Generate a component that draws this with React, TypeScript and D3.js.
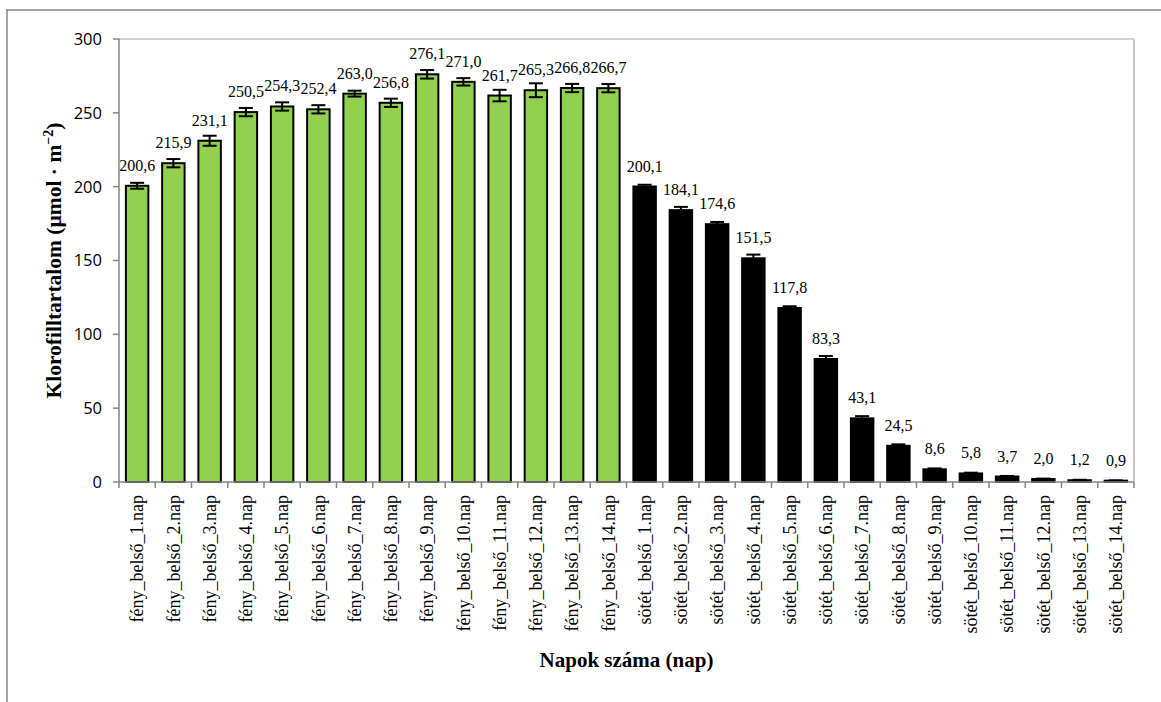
import React from "react";
import * as d3 from "d3";

const categories: string[] = [
  "fény_belső_1.nap", "fény_belső_2.nap", "fény_belső_3.nap", "fény_belső_4.nap",
  "fény_belső_5.nap", "fény_belső_6.nap", "fény_belső_7.nap", "fény_belső_8.nap",
  "fény_belső_9.nap", "fény_belső_10.nap", "fény_belső_11.nap", "fény_belső_12.nap",
  "fény_belső_13.nap", "fény_belső_14.nap",
  "sötét_belső_1.nap", "sötét_belső_2.nap", "sötét_belső_3.nap", "sötét_belső_4.nap",
  "sötét_belső_5.nap", "sötét_belső_6.nap", "sötét_belső_7.nap", "sötét_belső_8.nap",
  "sötét_belső_9.nap", "sötét_belső_10.nap", "sötét_belső_11.nap", "sötét_belső_12.nap",
  "sötét_belső_13.nap", "sötét_belső_14.nap",
];

const values: number[] = [
  200.6, 215.9, 231.1, 250.5, 254.3, 252.4, 263.0, 256.8, 276.1, 271.0, 261.7, 265.3, 266.8, 266.7,
  200.1, 184.1, 174.6, 151.5, 117.8, 83.3, 43.1, 24.5, 8.6, 5.8, 3.7, 2.0, 1.2, 0.9,
];

const errors: number[] = [
  2.0, 2.8, 3.4, 2.8, 2.8, 2.8, 2.0, 2.8, 2.9, 2.5, 3.9, 4.7, 2.8, 2.8,
  1.2, 2.2, 1.5, 2.5, 1.2, 2.0, 1.5, 1.0, 0.6, 0.5, 0.4, 0.3, 0.3, 0.2,
];

const groups: string[] = [
  "fény", "fény", "fény", "fény", "fény", "fény", "fény", "fény", "fény", "fény", "fény", "fény", "fény", "fény",
  "sötét", "sötét", "sötét", "sötét", "sötét", "sötét", "sötét", "sötét", "sötét", "sötét", "sötét", "sötét", "sötét", "sötét",
];

const yTicks: number[] = [0, 50, 100, 150, 200, 250, 300];

const W = 1161;
const H = 702;
const plot = { left: 119, right: 1134, top: 39, bottom: 482 };
const serif = "'Liberation Serif', 'Times New Roman', serif";

export default function App() {
  const x = d3
    .scaleBand<string>()
    .domain(categories)
    .range([plot.left, plot.right])
    .paddingInner(0.38)
    .paddingOuter(0.19);
  const y = d3.scaleLinear().domain([0, 300]).range([plot.bottom, plot.top]);
  const step = x.step();
  const fmt = (v: number) => v.toFixed(1).replace(".", ",");
  const color = d3.scaleOrdinal<string, string>().domain(["fény", "sötét"]).range(["#92d050", "#000000"]);

  return (
    <svg
      width={W}
      height={H}
      style={{ position: "absolute", left: 0, top: 0, background: "#fff" }}
    >
      {/* outer chart border */}
      <rect x={7} y={10} width={W + 20} height={H + 20} fill="none" stroke="#868686" strokeWidth={1.5} />

      {/* plot area top & right border */}
      <line x1={plot.left} x2={plot.right} y1={plot.top} y2={plot.top} stroke="#c0c0c0" strokeWidth={1.5} />
      <line x1={plot.right} x2={plot.right} y1={plot.top} y2={plot.bottom} stroke="#c8c8c8" strokeWidth={2} />

      {/* y axis */}
      <line x1={plot.left} x2={plot.left} y1={plot.top} y2={plot.bottom} stroke="#868686" strokeWidth={1.5} />
      {yTicks.map((t) => (
        <g key={t}>
          <line x1={plot.left - 6} x2={plot.left} y1={y(t)} y2={y(t)} stroke="#868686" strokeWidth={1.5} />
          <text
            x={102}
            y={y(t)}
            dy="0.36em"
            textAnchor="end"
            fontFamily="'Open Sans', 'DejaVu Sans', sans-serif"
            fontSize={16.5}
            fill="#000"
          >
            {t}
          </text>
        </g>
      ))}

      {/* bars */}
      {values.map((v, i) => {
        const c = categories[i];
        const bx = x(c) as number;
        const bw = x.bandwidth();
        return (
          <rect
            key={c}
            x={bx}
            y={y(v)}
            width={bw}
            height={plot.bottom - y(v)}
            fill={color(groups[i])}
            stroke="#000"
            strokeWidth={2}
          />
        );
      })}

      {/* error bars */}
      {values.map((v, i) => {
        const cx = (x(categories[i]) as number) + x.bandwidth() / 2;
        const y1 = y(v + errors[i]);
        const y2 = y(Math.max(0, v - errors[i]));
        return (
          <g key={"e" + i} stroke="#000" strokeWidth={2}>
            <line x1={cx} x2={cx} y1={y1} y2={y2} />
            <line x1={cx - 7} x2={cx + 7} y1={y1} y2={y1} />
            <line x1={cx - 7} x2={cx + 7} y1={y2} y2={y2} />
          </g>
        );
      })}

      {/* x axis */}
      <line x1={plot.left} x2={plot.right} y1={plot.bottom} y2={plot.bottom} stroke="#868686" strokeWidth={1.5} />
      {d3.range(categories.length + 1).map((i) => {
        const tx = plot.left + i * step;
        return (
          <line key={"t" + i} x1={tx} x2={tx} y1={plot.bottom} y2={plot.bottom + 6} stroke="#868686" strokeWidth={1.5} />
        );
      })}

      {/* data labels */}
      {values.map((v, i) => {
        const cx = (x(categories[i]) as number) + x.bandwidth() / 2;
        return (
          <text
            key={"l" + i}
            x={cx}
            y={y(v) - 15}
            textAnchor="middle"
            fontFamily={serif}
            fontSize={16}
            fill="#000"
          >
            {fmt(v)}
          </text>
        );
      })}

      {/* x tick labels */}
      {categories.map((c) => {
        const cx = (x(c) as number) + x.bandwidth() / 2;
        return (
          <text
            key={"x" + c}
            transform={`translate(${cx},${plot.bottom + 13}) rotate(-90)`}
            textAnchor="end"
            dy="0.35em"
            fontFamily={serif}
            fontSize={18}
            fill="#000"
          >
            {c}
          </text>
        );
      })}

      {/* axis titles */}
      <text
        x={(plot.left + plot.right) / 2}
        y={667}
        textAnchor="middle"
        fontFamily={serif}
        fontWeight="bold"
        fontSize={21}
        fill="#000"
      >
        Napok száma (nap)
      </text>
      <text
        transform={`translate(61,${(plot.top + plot.bottom) / 2}) rotate(-90)`}
        textAnchor="middle"
        fontFamily={serif}
        fontWeight="bold"
        fontSize={21.5}
        fill="#000"
      >
        Klorofilltartalom (µmol · m
        <tspan dy="-8" fontSize={14}>−2</tspan>
        <tspan dy="8">)</tspan>
      </text>
    </svg>
  );
}
